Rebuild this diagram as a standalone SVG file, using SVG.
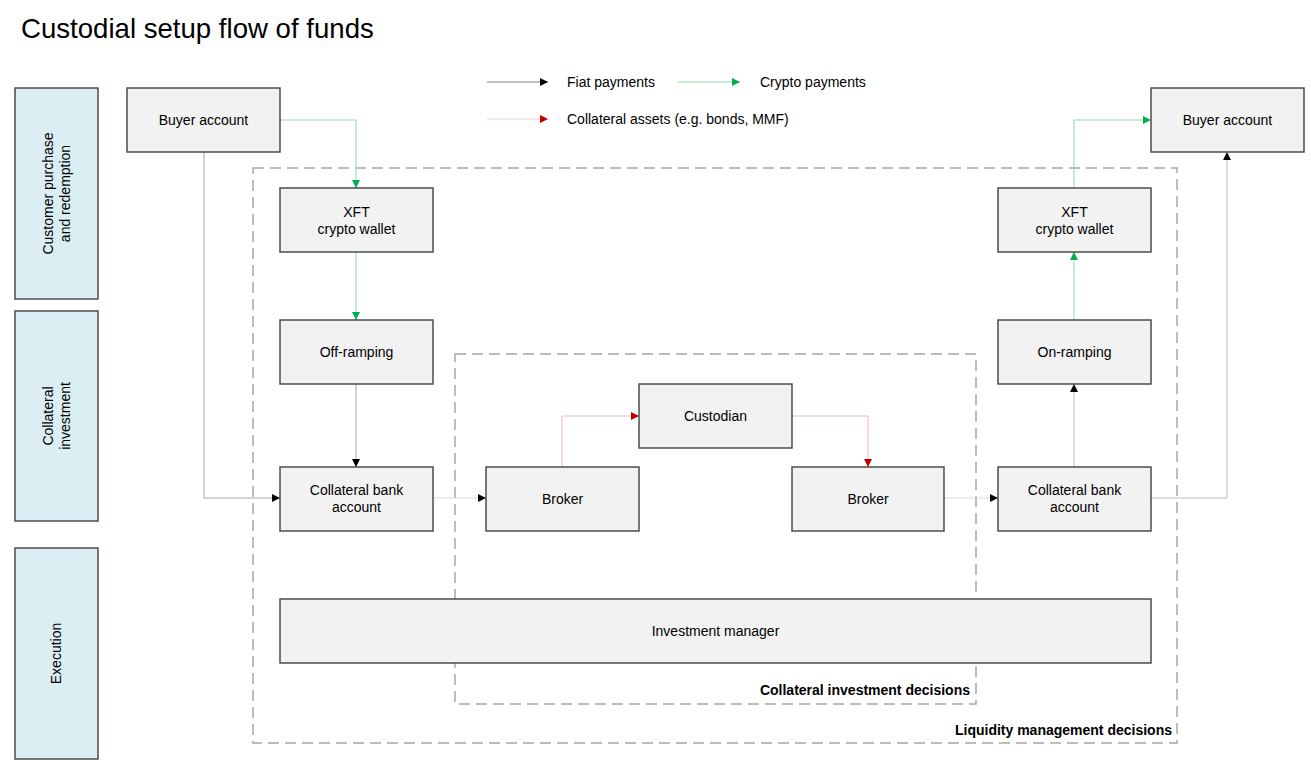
<svg xmlns="http://www.w3.org/2000/svg" width="1311" height="767" viewBox="0 0 1311 767">
<defs>
<style>
text{font-family:"Liberation Sans",Arial,sans-serif;font-size:14px;fill:#000}
.title{font-size:27.6px}
.bold{font-weight:bold;text-anchor:end}
.c{text-anchor:middle}
.node{fill:#F2F2F2;stroke:#404040;stroke-width:1.4}
.lane{fill:#DAEEF3;stroke:#404040;stroke-width:1.4}
.dash{fill:none;stroke:#A6A6A6;stroke-width:1.5;stroke-dasharray:11 6}
.fiat{fill:none;stroke:#A6A6A6;stroke-width:1;marker-end:url(#ab)}
.fiatl{fill:none;stroke:#D9D9D9;stroke-width:1.2;marker-end:url(#ab)}
.crypto{fill:none;stroke:#8EDBA8;stroke-width:1;marker-end:url(#ag)}
.coll{fill:none;stroke:#F4B4B4;stroke-width:1;marker-end:url(#ar)}
</style>
<marker id="ab" viewBox="0 0 8 8" refX="8" refY="4" markerWidth="8" markerHeight="8" markerUnits="userSpaceOnUse" orient="auto"><path d="M0,0 L8,4 L0,8 z" fill="#000"/></marker>
<marker id="ag" viewBox="0 0 8 8" refX="8" refY="4" markerWidth="8" markerHeight="8" markerUnits="userSpaceOnUse" orient="auto"><path d="M0,0 L8,4 L0,8 z" fill="#00B050"/></marker>
<marker id="ar" viewBox="0 0 8 8" refX="8" refY="4" markerWidth="8" markerHeight="8" markerUnits="userSpaceOnUse" orient="auto"><path d="M0,0 L8,4 L0,8 z" fill="#C00000"/></marker>
</defs>
<rect width="1311" height="767" fill="#fff"/>
<text class="title" x="21" y="38">Custodial setup flow of funds</text>

<g id="legend">
<line x1="487" y1="82" x2="548" y2="82" stroke="#808080" stroke-width="1" marker-end="url(#ab)"/>
<text x="567" y="87">Fiat payments</text>
<line x1="678" y1="82" x2="740" y2="82" stroke="#8EDBA8" stroke-width="1" marker-end="url(#ag)"/>
<text x="760" y="87">Crypto payments</text>
<line x1="487" y1="119" x2="548" y2="119" stroke="#F4D0D0" stroke-width="1" marker-end="url(#ar)"/>
<text x="567" y="124">Collateral assets (e.g. bonds, MMF)</text>
</g>

<g id="lane-customer">
<rect class="lane" x="15" y="88" width="83" height="211"/>
<text class="c" transform="translate(52.5,193.5) rotate(-90)"><tspan x="0" y="0">Customer purchase</tspan><tspan x="0" y="17">and redemption</tspan></text>
</g>
<g id="lane-collateral">
<rect class="lane" x="15" y="311" width="83" height="210"/>
<text class="c" transform="translate(52.5,416) rotate(-90)"><tspan x="0" y="0">Collateral</tspan><tspan x="0" y="17">investment</tspan></text>
</g>
<g id="lane-execution">
<rect class="lane" x="15" y="548" width="83" height="211"/>
<text class="c" transform="translate(61,653.5) rotate(-90)">Execution</text>
</g>

<g id="liquidity-box">
<rect class="dash" x="253" y="168" width="924" height="575"/>
<text class="bold" x="1172" y="735">Liquidity management decisions</text>
</g>
<g id="collateral-box">
<rect class="dash" x="455" y="354" width="521" height="350"/>
<text class="bold" x="970" y="695">Collateral investment decisions</text>
</g>

<g id="connectors">
<path class="fiat" d="M204,152 V498 H280"/>
<path class="crypto" d="M280,120 H356 V188"/>
<path class="crypto" d="M356,252 V320"/>
<path class="fiat" d="M356,384 V467"/>
<path class="fiatl" d="M433,498 H486"/>
<path class="coll" d="M562,467 V416 H639"/>
<path class="coll" d="M792,416 H868 V467"/>
<path class="fiatl" d="M944,498 H998"/>
<path class="fiat" d="M1074,467 V384" style="stroke:#BFBFBF"/>
<path class="crypto" d="M1074,320 V252"/>
<path class="crypto" d="M1074,188 V120 H1151"/>
<path class="fiat" d="M1151,498 H1227 V152" style="stroke:#BFBFBF"/>
</g>

<g id="buyer-left">
<rect class="node" x="127" y="88" width="153" height="64"/>
<text class="c" x="203.5" y="125">Buyer account</text>
</g>
<g id="xft-left">
<rect class="node" x="280" y="188" width="153" height="64"/>
<text class="c" x="356.5" y="216.5">XFT</text>
<text class="c" x="356.5" y="233.5">crypto wallet</text>
</g>
<g id="off-ramping">
<rect class="node" x="280" y="320" width="153" height="64"/>
<text class="c" x="356.5" y="357">Off-ramping</text>
</g>
<g id="collateral-bank-left">
<rect class="node" x="280" y="467" width="153" height="64"/>
<text class="c" x="356.5" y="495">Collateral bank</text>
<text class="c" x="356.5" y="512">account</text>
</g>
<g id="broker-left">
<rect class="node" x="486" y="467" width="153" height="64"/>
<text class="c" x="562.5" y="504">Broker</text>
</g>
<g id="custodian">
<rect class="node" x="639" y="384" width="153" height="64"/>
<text class="c" x="715.5" y="421">Custodian</text>
</g>
<g id="broker-right">
<rect class="node" x="792" y="467" width="152" height="64"/>
<text class="c" x="868" y="504">Broker</text>
</g>
<g id="collateral-bank-right">
<rect class="node" x="998" y="467" width="153" height="64"/>
<text class="c" x="1074.5" y="495">Collateral bank</text>
<text class="c" x="1074.5" y="512">account</text>
</g>
<g id="on-ramping">
<rect class="node" x="998" y="320" width="153" height="64"/>
<text class="c" x="1074.5" y="357">On-ramping</text>
</g>
<g id="xft-right">
<rect class="node" x="998" y="188" width="153" height="64"/>
<text class="c" x="1074.5" y="216.5">XFT</text>
<text class="c" x="1074.5" y="233.5">crypto wallet</text>
</g>
<g id="buyer-right">
<rect class="node" x="1151" y="88" width="153" height="64"/>
<text class="c" x="1227.5" y="125">Buyer account</text>
</g>
<g id="investment-manager">
<rect class="node" x="280" y="599" width="871" height="64"/>
<text class="c" x="715.5" y="636">Investment manager</text>
</g>
</svg>
